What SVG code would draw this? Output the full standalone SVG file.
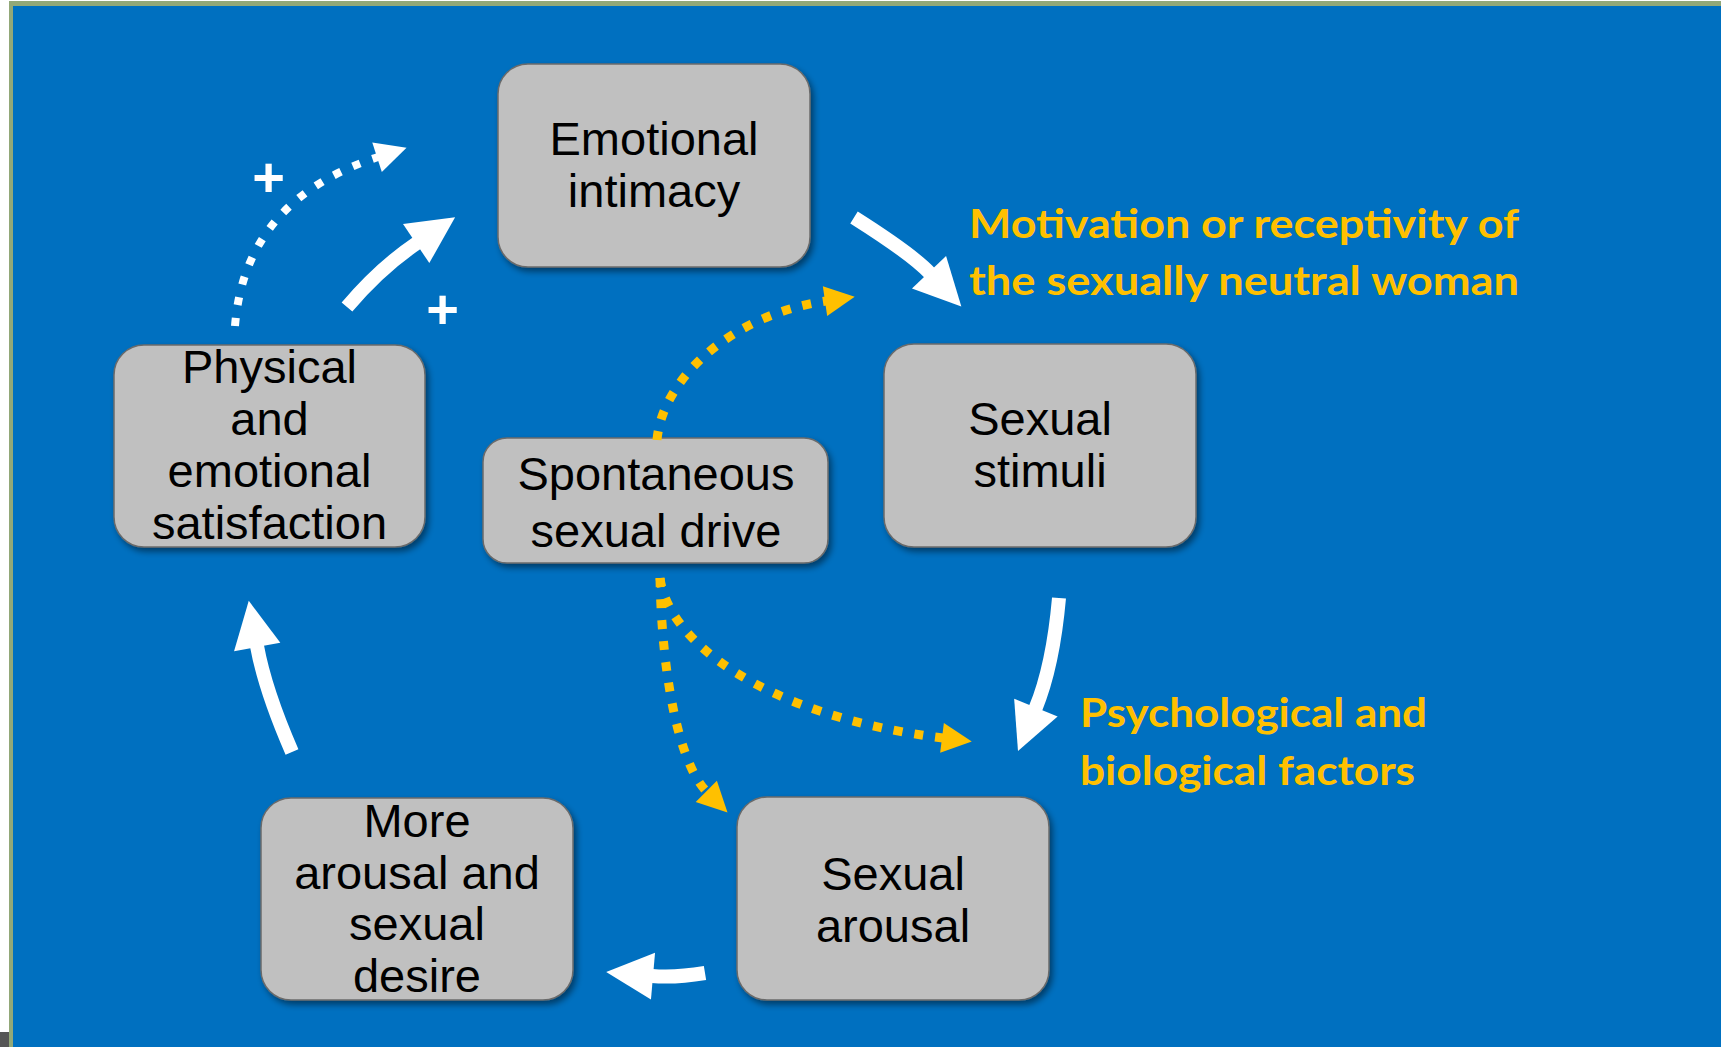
<svg xmlns="http://www.w3.org/2000/svg" width="1721" height="1047" viewBox="0 0 1721 1047">
  <style>
    .box { fill: #c0c0c0; stroke: #6b6b6b; stroke-width: 1.5; filter: url(#shadow); }
    .nt { font-family: "Liberation Sans", Arial, sans-serif; font-size: 47px; fill: #000; text-anchor: middle; }
    .lbl { font-family: Lato, "Open Sans", sans-serif; font-weight: bold; font-size: 41px; fill: #FFC000; }
    .plus { font-family: "Liberation Sans", Arial, sans-serif; font-weight: bold; font-size: 56px; fill: #fff; text-anchor: middle; }
    .solid { fill: none; stroke: #fff; stroke-width: 14; stroke-linecap: butt; }
    .wdot { fill: none; stroke: #fff; stroke-width: 8; stroke-dasharray: 8 13; }
    .ydot { fill: none; stroke: #FFC000; stroke-width: 9; stroke-dasharray: 9 12; }
  </style>
  <defs>
    <filter id="shadow" x="-10%" y="-10%" width="130%" height="130%">
      <feDropShadow dx="3" dy="4" stdDeviation="3" flood-color="#000" flood-opacity="0.45"/>
    </filter>
    <marker id="hBig" markerUnits="userSpaceOnUse" viewBox="0 -25 50 50" markerWidth="50" markerHeight="50" refX="1" refY="0" orient="auto" overflow="visible">
      <path d="M0,-23.5 L47,0 L0,23.5 Z" fill="#fff"/>
    </marker>
    <marker id="hWhite" markerUnits="userSpaceOnUse" viewBox="0 -17 34 34" markerWidth="34" markerHeight="34" refX="1" refY="0" orient="auto" overflow="visible">
      <path d="M0,-15.5 L31,0 L0,15.5 Z" fill="#fff"/>
    </marker>
    <marker id="hYellow" markerUnits="userSpaceOnUse" viewBox="0 -17 34 34" markerWidth="34" markerHeight="34" refX="1" refY="0" orient="auto" overflow="visible">
      <path d="M0,-15 L30,0 L0,15 Z" fill="#FFC000"/>
    </marker>
  </defs>

  <!-- background -->
  <rect x="0" y="0" width="1721" height="1047" fill="#ffffff"/>
  <rect x="9" y="1" width="1712" height="1046" fill="#92A878"/>
  <rect x="13" y="6" width="1708" height="1041" fill="#0070C0"/>
  <rect x="0" y="1032" width="9" height="15" fill="#555555"/>

  <g id="node-emotional-intimacy">
    <rect class="box" x="498" y="64" width="312" height="203" rx="30"/>
    <text class="nt" x="654" y="155">Emotional</text>
    <text class="nt" x="654" y="207">intimacy</text>
  </g>
  <g id="node-sexual-stimuli">
    <rect class="box" x="884" y="344" width="312" height="203" rx="30"/>
    <text class="nt" x="1040" y="435">Sexual</text>
    <text class="nt" x="1040" y="487">stimuli</text>
  </g>
  <g id="node-sexual-arousal">
    <rect class="box" x="737" y="797" width="312" height="203" rx="30"/>
    <text class="nt" x="893" y="890">Sexual</text>
    <text class="nt" x="893" y="942">arousal</text>
  </g>
  <g id="node-more-arousal">
    <rect class="box" x="261" y="798" width="312" height="202" rx="30"/>
    <text class="nt" x="417" y="837">More</text>
    <text class="nt" x="417" y="889">arousal and</text>
    <text class="nt" x="417" y="940">sexual</text>
    <text class="nt" x="417" y="992">desire</text>
  </g>
  <g id="node-physical-satisfaction">
    <rect class="box" x="114" y="345" width="311" height="202" rx="30"/>
    <text class="nt" x="269.5" y="383">Physical</text>
    <text class="nt" x="269.5" y="435">and</text>
    <text class="nt" x="269.5" y="487">emotional</text>
    <text class="nt" x="269.5" y="539">satisfaction</text>
  </g>
  <g id="node-spontaneous-drive">
    <rect class="box" x="483" y="438" width="345" height="125" rx="24"/>
    <text class="nt" x="656" y="490">Spontaneous</text>
    <text class="nt" x="656" y="547">sexual drive</text>
  </g>

  <g id="label-motivation">
    <text class="lbl" x="969" y="238" textLength="550" lengthAdjust="spacingAndGlyphs">Motivation or receptivity of</text>
    <text class="lbl" x="969" y="295" textLength="550" lengthAdjust="spacingAndGlyphs">the sexually neutral woman</text>
  </g>
  <g id="label-factors">
    <text class="lbl" x="1080" y="727" textLength="347" lengthAdjust="spacingAndGlyphs">Psychological and</text>
    <text class="lbl" x="1080" y="785" textLength="335" lengthAdjust="spacingAndGlyphs">biological factors</text>
  </g>

  <g id="connectors">
    <path class="solid" d="M347,307 Q380,268 417,243" marker-end="url(#hBig)"/>
    <path class="solid" d="M854,217.5 Q911.7,254 929.7,273" marker-end="url(#hBig)"/>
    <path class="solid" d="M1059,598 Q1053,666 1035.5,708.5" marker-end="url(#hBig)"/>
    <path class="solid" d="M705,973 Q675,978 652,976" marker-end="url(#hBig)"/>
    <path class="solid" d="M292,752 Q265,690 257,646" marker-end="url(#hBig)"/>
    <path class="wdot" d="M235,326 Q245,200 378,157" marker-end="url(#hWhite)"/>
    <path class="ydot" d="M657,440 C662,380 730,315 826,301" marker-end="url(#hYellow)"/>
    <path class="ydot" d="M660,578 C662,680 680,765 707,792" marker-end="url(#hYellow)"/>
    <path class="ydot" d="M660,578 C668,640 760,715 943,738" marker-end="url(#hYellow)"/>
    <text class="plus" x="268.5" y="196">+</text>
    <text class="plus" x="442.5" y="328">+</text>
  </g>
</svg>
